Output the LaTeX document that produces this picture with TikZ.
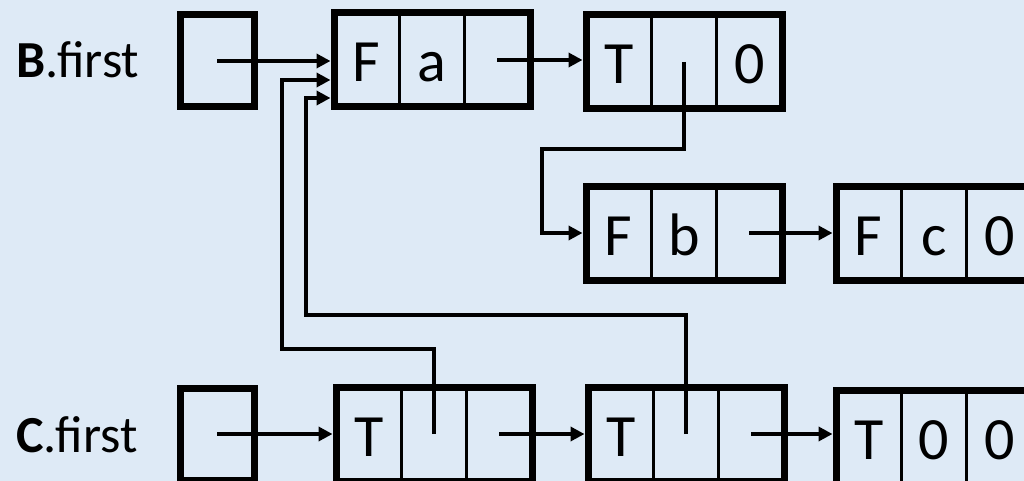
\documentclass[tikz,border=0pt]{standalone}
\usepackage{fontspec}
\setmainfont{Carlito}
\usetikzlibrary{arrows.meta,calc}
\definecolor{bg}{RGB}{222,234,246}
\tikzset{
  cellbx/.style={draw, line width=7pt, minimum width=196pt, minimum height=94pt, outer sep=0pt, inner sep=0pt},
  ptrbx/.style={draw, line width=7pt, minimum width=74pt, minimum height=92pt, outer sep=0pt, inner sep=0pt},
  divider/.style={line width=3pt},
  celltxt/.style={anchor=base, inner sep=0pt, font=\fontsize{60}{72}\selectfont},
  lbl/.style={anchor=base west, inner sep=0pt, font=\fontsize{52}{62}\selectfont},
  ptr/.style={line width=4pt, -{Triangle[length=14pt,width=14pt]}, shorten >=3.5pt},
  link/.style={line width=4pt, -{Triangle[length=14pt,width=14pt]}, shorten >=3.5pt}
}
\newcommand\celltext[2]{\if\relax\detokenize{#2}\relax\else\node[celltxt] (#1-t) at ($(#1)+(0,22)$) {#2};\fi}
\newcommand\cellbox[6]{%
  \node[cellbx] (#1) at (#2,#3) {};
  \draw[divider] ($(#1.north west)!1/3!(#1.north east)$) -- ($(#1.south west)!1/3!(#1.south east)$);
  \draw[divider] ($(#1.north west)!2/3!(#1.north east)$) -- ($(#1.south west)!2/3!(#1.south east)$);
  \coordinate (#1-a) at ($(#1.west)!1/6!(#1.east)$);
  \coordinate (#1-b) at ($(#1.west)!1/2!(#1.east)$);
  \coordinate (#1-c) at ($(#1.west)!5/6!(#1.east)$);
  \celltext{#1-a}{#4}\celltext{#1-b}{#5}\celltext{#1-c}{#6}%
}
\begin{document}
\begin{tikzpicture}[x=1pt,y=-1pt]
  \fill[bg] (0,0) rectangle (1024,481);
  \useasboundingbox (0,0) rectangle (1024,481);

  \node[lbl] (Blbl) at (16,78) {\textbf{B}.first};
  \node[lbl] (Clbl) at (16,452) {\textbf{C}.first};

  \node[ptrbx] (bp) at (217,61) {};
  \node[ptrbx] (cp) at (217,434) {};

  \cellbox{Fa}{432}{60}{F}{a}{}
  \cellbox{Ta}{684}{62}{T}{}{0}
  \cellbox{Fb}{684}{233}{F}{b}{}
  \cellbox{Fc}{934}{233}{F}{c}{0}
  \cellbox{Ta1}{434}{434}{T}{}{}
  \cellbox{Ta2}{686}{434}{T}{}{}
  \cellbox{Ta3}{934}{437}{T}{0}{0}

  \coordinate (j1) at (542,149);
  \coordinate (j2) at (282,349);
  \coordinate (j3) at (306,315);
  \coordinate (e2) at ($(Fa.west)+(0,20)$);
  \coordinate (e3) at ($(Fa.west)+(0,38)$);

  \draw[ptr] (bp.center) -- (bp.center -| Fa.west);
  \draw[ptr] (Fa-c) -- (Fa-c -| Ta.west);
  \draw[link] (Ta-b) |- (j1) |- (Fb.west);
  \draw[ptr] (Fb-c) -- (Fb-c -| Fc.west);

  \draw[ptr] (cp.center) -- (cp.center -| Ta1.west);
  \draw[ptr] (Ta1-c) -- (Ta1-c -| Ta2.west);
  \draw[ptr] (Ta2-c) -- (Ta2-c -| Ta3.west);
  \draw[link] (Ta1-b) |- (j2) |- (e2);
  \draw[link] (Ta2-b) |- (j3) |- (e3);
\end{tikzpicture}
\end{document}
